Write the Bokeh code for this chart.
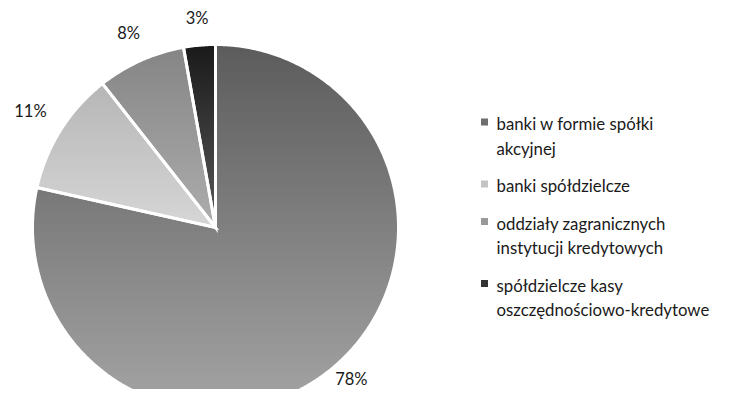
import numpy as np
from bokeh.plotting import figure
from bokeh.models import Range1d
from bokeh.embed import file_html
from bokeh.resources import INLINE
from bokeh.core.properties import value

# ---- data ----
categories = ["banki w formie spółki akcyjnej",
              "banki spółdzielcze",
              "oddziały zagranicznych instytucji kredytowych",
              "spółdzielcze kasy oszczędnościowo-kredytowe"]
legend_lines = [["banki w formie spółki", "akcyjnej"],
                ["banki spółdzielcze"],
                ["oddziały zagranicznych", "instytucji kredytowych"],
                ["spółdzielcze kasy", "oszczędnościowo-kredytowe"]]
shares = [78.5, 10.9, 7.8, 2.8]
pct_labels = ["78%", "11%", "8%", "3%"]
top_colors = ["#5c5c5c", "#b6b6b6", "#858585", "#1a1a1a"]
bottom_colors = ["#a4a4a4", "#d6d6d6", "#adadad", "#5a5a5a"]
legend_colors = ["#6e6e6e", "#c4c4c4", "#999999", "#333333"]

# ---- layout ----
W, H = 717, 389
CX, CY, R = 215, H - 227, 183
FONT = "Lato"

p = figure(width=W, height=H, output_backend="svg", toolbar_location=None,
           x_range=Range1d(0, W), y_range=Range1d(0, H), min_border=0)
p.axis.visible = False
p.grid.visible = False
p.outline_line_color = None
p.background_fill_color = "white"


def hex2rgb(h):
    h = h.lstrip("#")
    return np.array([int(h[i:i + 2], 16) for i in (0, 2, 4)], dtype=float)


def rgb2hex(c):
    return "#%02x%02x%02x" % tuple(int(round(v)) for v in c)


def clip_half(poly, y0, keep_above):
    out = []
    n = len(poly)
    for i in range(n):
        a = poly[i]
        b = poly[(i + 1) % n]
        ina = a[1] >= y0 if keep_above else a[1] <= y0
        inb = b[1] >= y0 if keep_above else b[1] <= y0
        if ina:
            out.append(a)
        if ina != inb:
            t = (y0 - a[1]) / (b[1] - a[1])
            out.append((a[0] + t * (b[0] - a[0]), y0))
    return out


total = sum(shares)
start = 90.0
wedge_polys = []
strip_xs, strip_ys, strip_cols = [], [], []
label_x, label_y = [], []
for i, s in enumerate(shares):
    sweep = s / total * 360.0
    a0, a1 = start, start - sweep
    angs = np.radians(np.linspace(a0, a1, max(8, int(sweep * 2))))
    poly = [(CX, CY)] + [(CX + R * np.cos(a), CY + R * np.sin(a)) for a in angs]
    wedge_polys.append(poly)
    ys_all = [pt[1] for pt in poly]
    ymin, ymax = min(ys_all), max(ys_all)
    ct, cb = hex2rgb(top_colors[i]), hex2rgb(bottom_colors[i])
    step = 2.0
    y = ymin
    while y < ymax:
        y2 = min(y + step, ymax)
        piece = clip_half(clip_half(poly, y, True), y2 + 0.6, False)
        if len(piece) >= 3:
            t = ((y + y2) / 2 - ymin) / (ymax - ymin)
            c = cb + (ct - cb) * t
            strip_xs.append([pt[0] for pt in piece])
            strip_ys.append([pt[1] for pt in piece])
            strip_cols.append(rgb2hex(c))
        y = y2
    mid = np.radians((a0 + a1) / 2)
    hw = 5.5 * len(pct_labels[i])
    hh = 9.0
    ext = abs(np.cos(mid)) * hw + abs(np.sin(mid)) * hh
    d = R + 17 + ext
    label_x.append(CX + d * np.cos(mid))
    label_y.append(max(CY + d * np.sin(mid), 11))
    start = a1

p.patches(strip_xs, strip_ys, fill_color=strip_cols, line_color=None)

# white separators
p.patches([[pt[0] for pt in poly] for poly in wedge_polys],
          [[pt[1] for pt in poly] for poly in wedge_polys],
          fill_alpha=0, line_color="white", line_width=3, line_join="miter")

p.text(x=label_x, y=label_y, text=pct_labels, text_align="center",
       text_baseline="middle", text_font=value(FONT), text_font_size="16.5px",
       text_color="#1a1a1a")

# legend
mx, tx = 484, 496
line_h, gap = 24.5, 13
y = H - 123
mk_x, mk_y, lt_x, lt_y, lt_t = [], [], [], [], []
for i, lines in enumerate(legend_lines):
    mk_x.append(mx)
    mk_y.append(y + 1.5)
    for k, ln in enumerate(lines):
        lt_x.append(tx)
        lt_y.append(y - k * line_h)
        lt_t.append(ln)
    y -= len(lines) * line_h + gap

p.rect(x=mk_x, y=mk_y, width=7, height=7, fill_color=legend_colors, line_color=None)
p.text(x=lt_x, y=lt_y, text=lt_t, text_align="left", text_baseline="middle",
       text_font=value(FONT), text_font_size="16.8px", text_color="#1a1a1a")

open("out.html", "w").write(file_html(p, INLINE))
